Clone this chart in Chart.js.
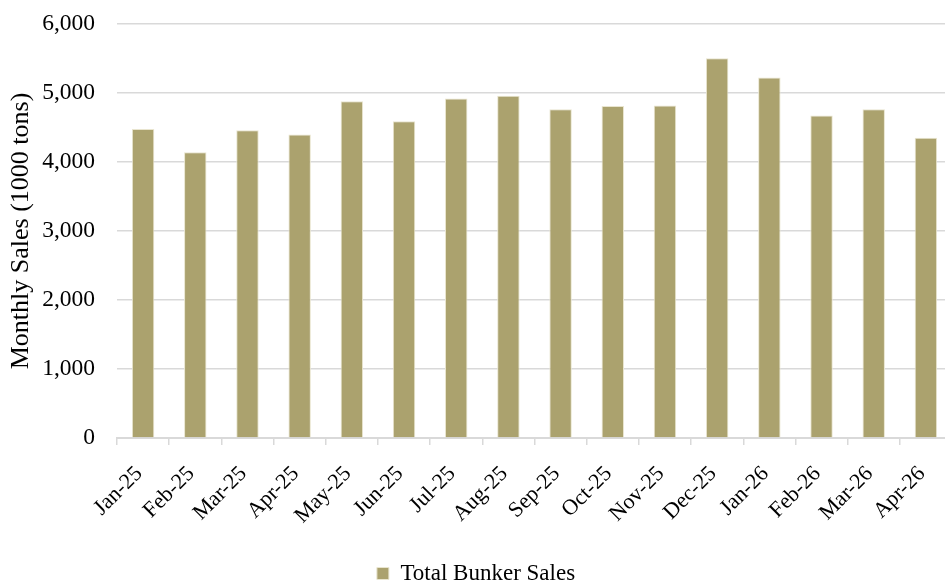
<!DOCTYPE html>
<html>
<head>
<meta charset="utf-8">
<script src="https://cdn.jsdelivr.net/npm/chart.js@4.4.1/dist/chart.umd.min.js"></script>
<style>
    html, body { margin: 0; padding: 0; background: #fff; overflow: hidden; }
    /* a bit wider than the window: the last category runs past the right edge */
    #wrap { position: relative; width: 952px; height: 583px; }
</style>
</head>
<body>
<div id="wrap"><canvas id="bunkerChart"></canvas></div>
<script>
// months shown on the x axis
var months = ['Jan-25', 'Feb-25', 'Mar-25', 'Apr-25', 'May-25', 'Jun-25', 'Jul-25', 'Aug-25',
    'Sep-25', 'Oct-25', 'Nov-25', 'Dec-25', 'Jan-26', 'Feb-26', 'Mar-26', 'Apr-26'];

// monthly sales, 1000 tons
var totalSales = [4480, 4140, 4460, 4400, 4880, 4590, 4920, 4960,
    4765, 4810, 4820, 5505, 5225, 4675, 4765, 4350];

var yTicks = [0, 1000, 2000, 3000, 4000, 5000, 6000];

var serif = "'Liberation Serif', 'Times New Roman', serif";
var gridGrey = '#d9d9d9';

Chart.defaults.font.family = serif;
Chart.defaults.color = '#000';

var ctx = document.getElementById('bunkerChart').getContext('2d');

var myChart = new Chart(ctx, {
    type: 'bar',
    data: {
        labels: months,
        datasets: [{
            label: 'Total Bunker Sales',
            data: totalSales,
            backgroundColor: '#aba26e',
            borderColor: '#e9e5cf',
            borderWidth: 1,
            categoryPercentage: 1,
            barPercentage: 0.43
        }]
    },
    options: {
        responsive: true,
        maintainAspectRatio: false,
        animation: false,
        layout: { padding: { top: 24, right: 0, left: 0, bottom: -12 } },
        plugins: {
            tooltip: { enabled: false },
            legend: {
                position: 'bottom',
                labels: {
                    font: { size: 23, family: serif, lineHeight: 1 },
                    boxWidth: 12,
                    boxHeight: 12,
                    padding: 0
                }
            }
        },
        scales: {
            x: {
                offset: true,
                afterFit: function (scale) {
                    scale.height = 124;
                    scale.paddingLeft = 0;
                    scale.paddingRight = 0;
                },
                grid: {
                    offset: true,
                    drawOnChartArea: false,
                    tickLength: 7,
                    color: gridGrey,
                    lineWidth: 1.5
                },
                border: { color: gridGrey, width: 2 },
                ticks: {
                    font: { size: 22, family: serif },
                    maxRotation: 45,
                    minRotation: 45,
                    padding: 16,
                    labelOffset: -4
                }
            },
            y: {
                min: 0,
                max: 6000,
                afterFit: function (scale) {
                    // fixed width, and don't let tick padding push the plot down
                    scale.width = 117;
                    scale.paddingTop = 12;
                    scale.paddingBottom = 12;
                },
                afterBuildTicks: function (scale) {
                    scale.ticks = yTicks.map(function (v) { return { value: v }; });
                },
                grid: {
                    color: gridGrey,
                    lineWidth: 1.5,
                    drawTicks: false
                },
                border: { display: false },
                ticks: {
                    font: { size: 23.5, family: serif },
                    padding: 22,
                    callback: function (v) { return Number(v).toLocaleString('en-US'); }
                },
                title: {
                    display: true,
                    text: 'Monthly Sales (1000 tons)',
                    font: { size: 26, family: serif },
                    padding: { top: 6, bottom: 0 }
                }
            }
        }
    }
});
</script>
</body>
</html>
